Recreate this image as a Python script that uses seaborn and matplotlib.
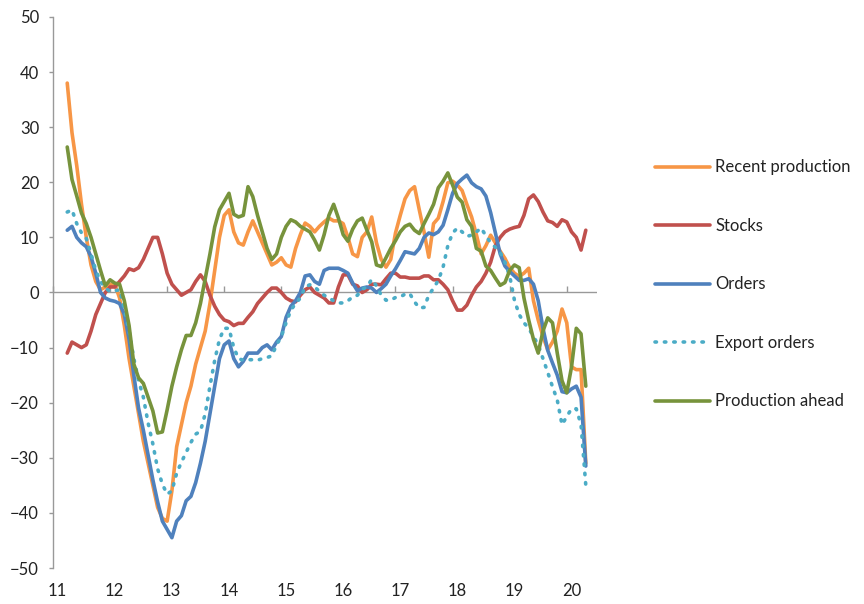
import numpy as np
import pandas as pd
import matplotlib
matplotlib.use("Agg")
import matplotlib.pyplot as plt
import seaborn as sns

# monthly survey balances, Apr 2011 - May 2020
months = pd.date_range("2011-04-01", periods=110, freq="MS")

recent_production = [
    38, 29, 23, 16, 10, 5, 2, 0.5, 1, 1.5,
    1.5, -1, -6, -12, -17, -22, -27, -31, -35, -39,
    -41, -41.5, -36, -28, -24, -20, -17, -13, -10, -7,
    -2, 4, 10, 14, 15, 11, 9, 8.6, 11, 13,
    11, 9, 7, 5, 5.5, 6.3, 5, 4.6, 8, 10.5,
    12.6, 12, 11, 12, 12.8, 13.5, 13, 13, 12.5, 10,
    7, 6.5, 10, 11, 13.7, 9, 6, 4.6, 6, 10.8,
    14, 17, 18.5, 19.2, 15, 11, 6.4, 12.5, 13.5, 16.5,
    19.9, 20.2, 19.5, 18.5, 16, 13.7, 10.5, 7, 8.5, 10.4,
    9, 7.5, 6.2, 4.5, 3.5, 2.9, 3.5, 4.4, -1.5, -5,
    -8, -10.4, -9, -7, -3, -5.5, -13.5, -14, -14, -31,
]

stocks = [
    -11, -9, -9.5, -10, -9.5, -7, -4, -2, 0, 1,
    1, 2, 3, 4.3, 4, 4.5, 6, 8, 10, 10,
    7, 3.5, 1.5, 0.5, -0.5, 0, 0.5, 2, 3.2, 2,
    -0.5, -2.5, -4, -5, -5.3, -6, -5.6, -5.6, -4.5, -3.5,
    -2, -1, 0, 0.8, 0.8, 0, -1, -1.5, -1.7, -0.5,
    0.5, 1, 0, -0.5, -1, -1.9, -1.9, 1, 3.2, 3.2,
    1.5, 1.2, 0, 0.5, 1.5, 1.5, 1.4, 2.5, 3.5, 3.5,
    2.8, 2.8, 2.6, 2.6, 2.6, 3, 3, 2.3, 2.3, 1.5,
    0.5, -1.5, -3.2, -3.2, -2.3, -0.5, 1, 2, 3.5, 5.5,
    8.5, 10, 11, 11.5, 11.8, 12, 14, 17, 17.7, 16.5,
    14.6, 13, 12.7, 12, 13.2, 12.8, 11, 10, 7.7, 11.3,
]

orders = [
    11.3, 12, 10, 9, 8.3, 6.5, 3.5, 0, -1, -1.4,
    -1.6, -2, -4, -8.5, -15, -21, -25, -29.5, -34, -38,
    -41.5, -43, -44.5, -41.5, -40.5, -37.8, -37, -34.5, -31, -27,
    -22, -17, -12, -9.5, -8.8, -12, -13.5, -12.5, -11, -11,
    -11, -10, -9.5, -10.4, -9, -8, -4.5, -2.5, -1.5, 0,
    3, 3.2, 2, 1.5, 4, 4.4, 4.4, 4.4, 4, 3.5,
    1.7, 0.3, 0.8, 1, 0.8, 0, 0.7, 1.5, 3, 4.3,
    5.8, 7.4, 7.2, 7, 8, 10, 10.8, 10.5, 11, 12.2,
    15, 18, 19.8, 20.6, 21.3, 19.9, 19.2, 18.8, 17.5, 14.5,
    10.8, 7, 4.8, 3.8, 3, 2.2, 2.2, 2.5, 1.5, -1.5,
    -6.5, -10.5, -12.8, -15, -18, -18.2, -17.5, -17, -19, -31.5,
]

export_orders = [
    14.6, 15, 12.5, 10.8, 9.8, 7, 4, 2, 0.8, 0.2,
    0.3, 0.5, -3, -7, -12, -16, -19, -23.7, -27.5, -32,
    -34.8, -36.6, -36, -32.8, -30.8, -29, -27.2, -25.7, -25.2, -22,
    -17, -12.3, -8.5, -6.5, -6.5, -10, -12, -12.3, -12.2, -12.2,
    -12.3, -12, -11.8, -11.5, -9.5, -8, -5.5, -3.2, -2, -1,
    1, 1.4, 1, 0.2, -0.5, -1, -1.5, -1.9, -1.9, -1.5,
    -0.8, -0.5, 0.6, 1, 2.4, 1.2, -0.5, -1.4, -1.4, -0.9,
    -0.8, -0.3, -0.2, -1.7, -2.8, -2.7, -0.5, 0.8, 2.2, 4.6,
    8.5, 10.8, 11.7, 11, 10.2, 10.4, 11, 11.7, 10.3, 9,
    8.2, 7.3, 5.5, 3, -1.4, -4, -5.5, -6.5, -8, -9.5,
    -12, -14.5, -17.1, -19.5, -24, -22.5, -21.1, -21.1, -24, -35,
]

production_ahead = [
    26.4, 20.5, 17.5, 14.4, 12.5, 10, 7, 4, 1.2, 2.3,
    1.7, 1.5, -1.5, -6, -13, -15.5, -16.5, -19, -21.5, -25.5,
    -25.3, -21.3, -17, -13.5, -10.4, -7.8, -7.8, -5.5, -2, 2.5,
    7, 11.9, 15, 16.5, 18, 14.2, 13.7, 14, 19.2, 17.4,
    14, 11, 8, 6, 7, 10, 12, 13.2, 12.8, 12,
    11.5, 11, 9.5, 7.7, 10.5, 14, 16, 13.5, 10.5, 9.3,
    11.5, 13, 13.5, 11.3, 9.2, 5, 4.7, 6.3, 8, 9.4,
    11, 12, 12.4, 11.3, 10.7, 12.5, 14.2, 16, 19, 20.2,
    21.7, 19.5, 17.3, 16.4, 13.2, 12, 8, 7.5, 4.8, 4,
    2.6, 1.3, 1.8, 4, 5, 4.5, -1, -5, -8.5, -11,
    -7, -4.6, -5.5, -11, -16, -18.2, -13.5, -6.5, -7.5, -17,
]

year_ticks = list(range(11, 21))
year_labels = [str(y) for y in year_ticks]

series = [
    ("Recent production", recent_production, "#F79646", "-"),
    ("Stocks", stocks, "#C0504D", "-"),
    ("Orders", orders, "#4F81BD", "-"),
    ("Export orders", export_orders, "#4BACC6", (0, (0.4, 2.2))),
    ("Production ahead", production_ahead, "#77933C", "-"),
]

# x as two-digit decimal year
x = (months.year - 2000) + (months.month - 1) / 12.0

sns.set_style("white")
plt.rcParams["font.family"] = ["Lato", "DejaVu Sans"]

fig = plt.figure(figsize=(8.64, 6.04), dpi=100)
ax = fig.add_axes([0.0613, 0.0596, 0.6297, 0.9123])

grey = "#999999"

# zero line drawn under the series
ax.axhline(0, color=grey, linewidth=1.0, zorder=1)

for name, vals, col, ls in series:
    sns.lineplot(x=x, y=vals, ax=ax, color=col, linestyle=ls, linewidth=2.6,
                 label=name, solid_capstyle="round", dash_capstyle="round",
                 zorder=3)

ax.set_xlim(11, 20.53)
ax.set_ylim(-50, 50)
ax.set_yticks(range(-50, 51, 10))

for s in ["top", "right", "bottom"]:
    ax.spines[s].set_visible(False)
ax.spines["left"].set_color(grey)
ax.spines["left"].set_linewidth(1.0)
ax.tick_params(axis="y", direction="out", length=3, width=1, color=grey,
               pad=7, labelsize=12, labelcolor="#222222", left=True)

# year labels along the bottom, no tick marks
ax.set_xticks([t + 0.08 for t in year_ticks])
ax.set_xticklabels(year_labels)
ax.tick_params(axis="x", length=0, pad=11, labelsize=12, labelcolor="#222222")

# year tick marks hanging from the zero line
zero_ax = ax.secondary_xaxis(0.5)
zero_ax.set_xticks(year_ticks)
zero_ax.set_xticklabels([])
for sp in zero_ax.spines.values():
    sp.set_visible(False)
zero_ax.tick_params(axis="x", direction="out", length=4, width=1, color=grey)

ax.set_xlabel("")
ax.set_ylabel("")

handles, labels = ax.get_legend_handles_labels()
ax.legend_.remove()
fig.legend(handles, labels, loc="center left", bbox_to_anchor=(0.748, 0.529),
           frameon=False, fontsize=12, handlelength=3.3, handletextpad=0.35,
           labelspacing=2.55, borderpad=0, labelcolor="#222222")

fig.savefig("out.png", dpi=100)
